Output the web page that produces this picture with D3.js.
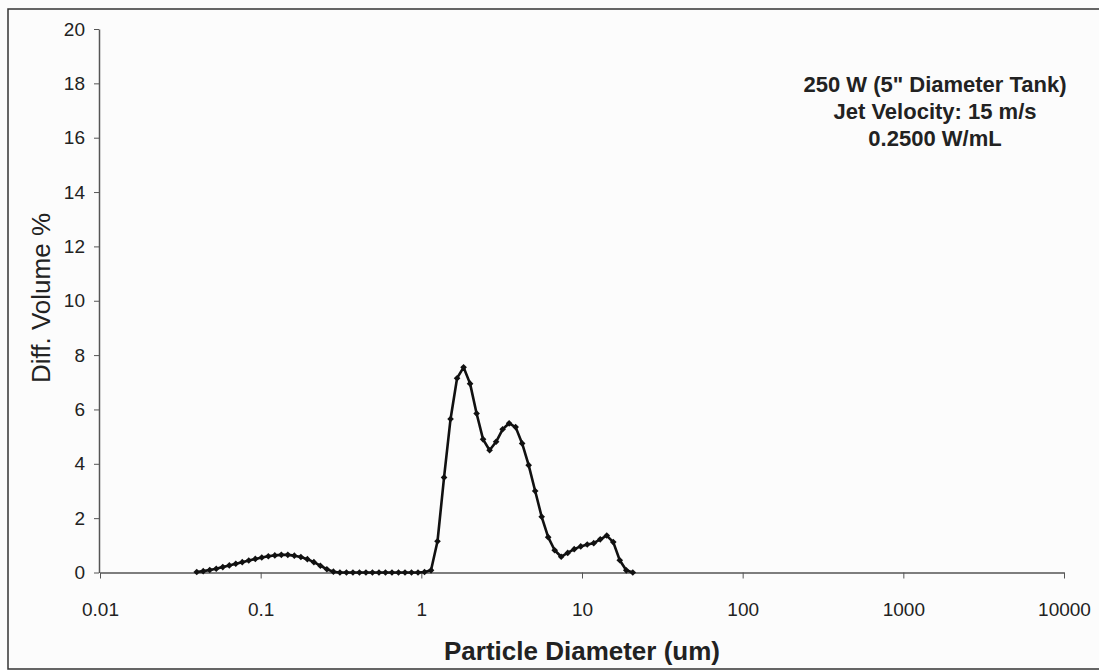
<!DOCTYPE html>
<html>
<head>
<meta charset="utf-8">
<script src="https://cdn.jsdelivr.net/npm/d3@7"></script>
<style>
  body { margin: 0; background: #fcfcfc; }
  svg { display: block; font-family: "Liberation Sans", Arial, sans-serif; }
</style>
</head>
<body>
<svg id="chart" width="1099" height="670"></svg>
<script>
// particle diameter channels (um)
const diameters = [
  0.04, 0.0439, 0.0482, 0.0529, 0.0581, 0.0638, 0.07, 0.0768, 0.0843, 0.0926,
  0.1016, 0.1116, 0.1225, 0.1345, 0.1476, 0.162, 0.1779, 0.1953, 0.2144, 0.2353,
  0.2583, 0.2836, 0.3113, 0.3418, 0.3752, 0.4119, 0.4521, 0.4963, 0.5449, 0.5982,
  0.6566, 0.7208, 0.7914, 0.8687, 0.9536, 1.047, 1.149, 1.261, 1.385, 1.52,
  1.669, 1.832, 2.011, 2.208, 2.423, 2.66, 2.92, 3.206, 3.519, 3.863,
  4.241, 4.656, 5.111, 5.611, 6.159, 6.761, 7.422, 8.148, 8.944, 9.819,
  10.78, 11.83, 12.99, 14.26, 15.65, 17.18, 18.86, 20.71
];
// differential volume %
const volumes = [
  0.02, 0.05, 0.09, 0.14, 0.2, 0.26, 0.32, 0.38, 0.44, 0.5,
  0.55, 0.6, 0.63, 0.65, 0.65, 0.62, 0.57, 0.49, 0.38, 0.25,
  0.12, 0.03, 0, 0, 0, 0, 0, 0, 0, 0,
  0, 0, 0, 0, 0, 0.02, 0.08, 1.15, 3.5, 5.65,
  7.15, 7.55, 6.95, 5.85, 4.9, 4.5, 4.81, 5.27, 5.49, 5.35,
  4.75, 3.95, 3.0, 2.05, 1.3, 0.82, 0.58, 0.72, 0.86, 0.96,
  1.03, 1.08, 1.22, 1.36, 1.12, 0.45, 0.08, 0
];
const xTicks = [0.01, 0.1, 1, 10, 100, 1000, 10000];
const yTicks = [0, 2, 4, 6, 8, 10, 12, 14, 16, 18, 20];
const noteLines = ['250 W (5" Diameter Tank)', 'Jet Velocity: 15 m/s', '0.2500 W/mL'];

const svg = d3.select('#chart');
const data = diameters.map((d, i) => ({ d, v: volumes[i] }));

const x = d3.scaleLog().domain([0.01, 10000]).range([100, 1064]);
const y = d3.scaleLinear().domain([0, 20]).range([572.5, 29]);

// outer frame
svg.append('rect')
  .attr('x', 8).attr('y', 9).attr('width', 1100).attr('height', 660)
  .attr('fill', 'none').attr('stroke', '#333').attr('stroke-width', 1.5);

// y axis
const yAxis = svg.append('g')
  .attr('transform', 'translate(99,0)')
  .call(d3.axisLeft(y).tickValues(yTicks).tickSize(5).tickSizeOuter(0).tickPadding(9));
yAxis.selectAll('text').style('font-size', '19px').attr('fill', '#222');

// x axis
const xAxis = svg.append('g')
  .attr('transform', `translate(0,${y(0)})`)
  .call(d3.axisBottom(x).tickValues(xTicks).tickFormat(d => String(d)).tickSize(6).tickSizeOuter(0).tickPadding(24));
xAxis.selectAll('text').style('font-size', '19px').attr('fill', '#222');

svg.selectAll('.domain').attr('stroke', '#555').attr('stroke-width', 1.5);
svg.selectAll('.tick line').attr('stroke', '#555');

// curve
svg.append('path')
  .datum(data)
  .attr('fill', 'none')
  .attr('stroke', '#111')
  .attr('stroke-width', 2.6)
  .attr('stroke-linejoin', 'round')
  .attr('d', d3.line().x(p => x(p.d)).y(p => y(p.v)));

// diamond markers
svg.append('g')
  .selectAll('path')
  .data(data)
  .join('path')
  .attr('transform', p => `translate(${x(p.d)},${y(p.v)}) rotate(45)`)
  .attr('d', d3.symbol().type(d3.symbolSquare).size(22))
  .attr('fill', '#111');

// axis titles
svg.append('text')
  .attr('transform', 'translate(50,298) rotate(-90)')
  .attr('text-anchor', 'middle')
  .style('font-size', '26px')
  .attr('fill', '#222')
  .text('Diff. Volume %');

svg.append('text')
  .attr('x', 582).attr('y', 660)
  .attr('text-anchor', 'middle')
  .style('font-size', '26px')
  .style('font-weight', 'bold')
  .attr('fill', '#222')
  .text('Particle Diameter (um)');

// annotation
svg.append('g')
  .selectAll('text')
  .data(noteLines)
  .join('text')
  .attr('x', 935)
  .attr('y', (t, i) => 92 + i * 27)
  .attr('text-anchor', 'middle')
  .style('font-size', '22px')
  .style('font-weight', 'bold')
  .attr('fill', '#222')
  .text(t => t);
</script>
</body>
</html>
